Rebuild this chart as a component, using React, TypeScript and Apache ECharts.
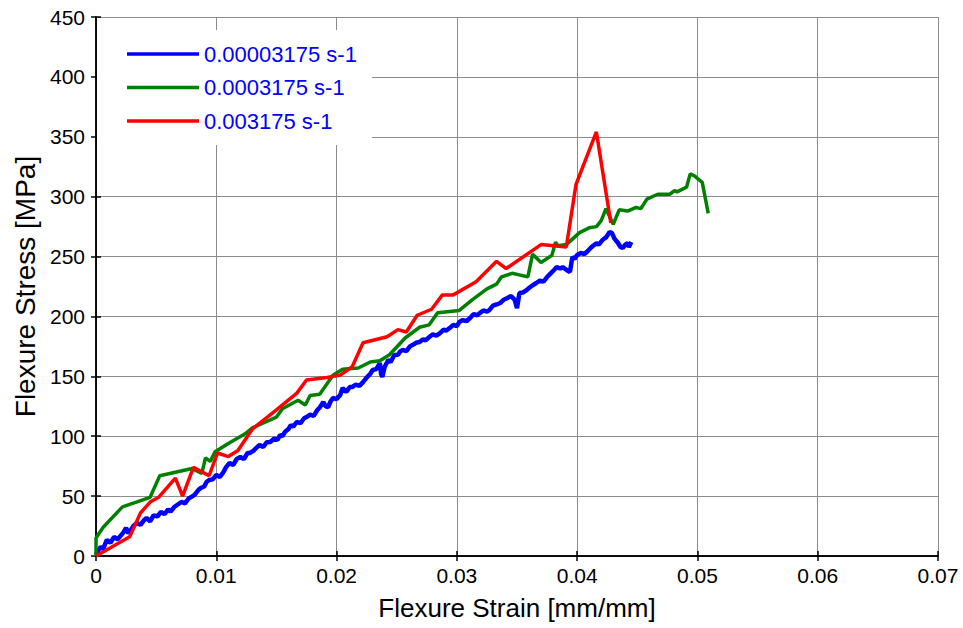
import React, { useEffect, useRef } from "react";
import * as echarts from "echarts";

const seriesNames = ["0.00003175 s-1", "0.0003175 s-1", "0.003175 s-1"];
const xTicks = [0, 0.01, 0.02, 0.03, 0.04, 0.05, 0.06, 0.07];

const blueData: [number, number][] = [
  [0, 0.8], [0.0002, 5], [0.0004, 7.5], [0.0006, 6], [0.0009, 13.4], [0.0012, 11], [0.0015, 15.9], [0.0018, 14],
  [0.0021, 17.5], [0.0023, 20], [0.0025, 23.4], [0.0027, 19], [0.0029, 21.7], [0.0031, 25], [0.0034, 27.5], [0.0037, 26],
  [0.004, 30], [0.0042, 31.7], [0.0045, 29], [0.0048, 34], [0.0051, 33], [0.0054, 36.7], [0.0057, 35], [0.006, 39],
  [0.0062, 37], [0.0065, 40.9], [0.0068, 43], [0.0071, 45.1], [0.0074, 44], [0.0077, 48], [0.0079, 49.2], [0.0082, 51],
  [0.0085, 55], [0.0087, 56.8], [0.009, 58], [0.0092, 62], [0.0094, 63.4], [0.0097, 64], [0.01, 67.6], [0.0103, 66],
  [0.0106, 70.1], [0.0108, 74], [0.0111, 77.6], [0.0114, 76], [0.0117, 81], [0.012, 82.6], [0.0123, 81], [0.0126, 86],
  [0.0128, 86], [0.0131, 88], [0.0134, 91], [0.0136, 92.7], [0.0139, 91], [0.0142, 95], [0.0145, 95.2], [0.0148, 98],
  [0.0151, 97], [0.0153, 101], [0.0155, 100], [0.0157, 103.5], [0.016, 106], [0.0162, 109.3], [0.0164, 108], [0.0167, 111.9],
  [0.017, 111], [0.0173, 115], [0.0175, 116], [0.0178, 118], [0.0181, 117], [0.0184, 121.9], [0.0186, 124], [0.0189, 128.5],
  [0.0191, 125], [0.0193, 124.4], [0.0195, 129], [0.0197, 131.9], [0.02, 131], [0.0203, 134.4], [0.0205, 140.2], [0.0208, 137],
  [0.0211, 141], [0.0213, 141.1], [0.0216, 143], [0.0219, 142], [0.0222, 145.2], [0.0225, 149], [0.0228, 152], [0.023, 155.3],
  [0.0233, 156], [0.0236, 161.1], [0.0237, 152], [0.0238, 149.4], [0.024, 158], [0.0243, 163.6], [0.0245, 162], [0.0248, 167.8],
  [0.0251, 168], [0.0253, 171], [0.0255, 172], [0.0258, 171], [0.0261, 175], [0.0263, 176.1], [0.0266, 178], [0.0269, 178.6],
  [0.0272, 181], [0.0274, 180], [0.0277, 182.8], [0.028, 185], [0.0283, 184], [0.0286, 186.1], [0.0289, 189], [0.0291, 188],
  [0.0294, 190.3], [0.0297, 193], [0.03, 192], [0.0302, 195.3], [0.0305, 197], [0.0308, 196], [0.0311, 198.7], [0.0314, 202],
  [0.0317, 201], [0.0319, 202.8], [0.0322, 205], [0.0325, 204], [0.0327, 205.3], [0.033, 209], [0.0333, 210], [0.0336, 211.2],
  [0.0339, 214], [0.0342, 215.4], [0.0345, 217], [0.0348, 214], [0.035, 207], [0.0351, 213], [0.0352, 219.5], [0.0355, 220],
  [0.0358, 222], [0.036, 223.7], [0.0363, 226], [0.0366, 227.9], [0.0369, 230], [0.0372, 229], [0.0375, 232.9], [0.0378, 236],
  [0.0381, 239], [0.0383, 241.2], [0.0386, 240], [0.0388, 241.2], [0.0391, 239], [0.0394, 237.1], [0.0396, 249.6], [0.0398, 248],
  [0.04, 251.3], [0.0403, 253], [0.0406, 252], [0.0408, 253.8], [0.0411, 257], [0.0413, 258.8], [0.0416, 261], [0.0418, 260],
  [0.0421, 263.8], [0.0424, 266], [0.0427, 270.5], [0.0429, 269.6], [0.0431, 265], [0.0434, 261.3], [0.0436, 258], [0.0438, 257.1],
  [0.044, 260], [0.0442, 261.3], [0.0443, 258], [0.0445, 262.1],
];

const greenData: [number, number][] = [
  [0, 0], [0, 15], [0.0006, 24], [0.0022, 41], [0.0045, 49], [0.0053, 67], [0.008, 73], [0.0088, 69], [0.0091, 82],
  [0.0095, 79], [0.0099, 87], [0.011, 94], [0.0124, 102], [0.013, 107], [0.015, 116], [0.0155, 123], [0.0168, 130],
  [0.0174, 126], [0.0178, 134], [0.0186, 135], [0.0197, 151], [0.0205, 156], [0.0218, 157], [0.0228, 162], [0.0236, 163],
  [0.0244, 168], [0.0257, 182], [0.0269, 191], [0.0277, 193], [0.0284, 203], [0.0302, 205], [0.0313, 214], [0.0325, 223],
  [0.0333, 227], [0.0337, 233], [0.0346, 236], [0.0359, 233], [0.0363, 252], [0.037, 245], [0.0379, 251], [0.0382, 262],
  [0.0384, 259], [0.0391, 260], [0.0402, 270], [0.041, 274], [0.0416, 275], [0.042, 280], [0.0424, 290], [0.043, 277],
  [0.0435, 289], [0.0442, 288], [0.0449, 291], [0.0453, 290], [0.0458, 298], [0.0467, 302], [0.0477, 302], [0.0481, 305],
  [0.0483, 304], [0.0491, 308], [0.0494, 319], [0.0498, 317], [0.0504, 312], [0.0509, 286],
];

const redData: [number, number][] = [
  [0, 0], [0.0028, 16], [0.0037, 36], [0.0045, 45], [0.0052, 49], [0.0066, 65], [0.0072, 50], [0.0081, 74], [0.0094, 67],
  [0.0101, 86], [0.011, 83], [0.0118, 88], [0.013, 106], [0.015, 122], [0.0167, 136], [0.0175, 147], [0.0192, 149],
  [0.0203, 151], [0.0213, 158], [0.0222, 178], [0.0242, 183], [0.0251, 189], [0.0258, 187], [0.0267, 201], [0.0279, 206],
  [0.0288, 218], [0.0297, 218], [0.0316, 229], [0.0333, 246], [0.0341, 240], [0.037, 260], [0.0391, 258], [0.0399, 310],
  [0.0416, 354], [0.0428, 278],
];

const FONT = "'Liberation Sans', Arial, sans-serif";

export default function App() {
  const ref = useRef<HTMLDivElement>(null);
  useEffect(() => {
    if (!ref.current) return;
    const chart = echarts.init(ref.current, null, { renderer: "svg" });
    const axisLine = { show: true, lineStyle: { color: "#000", width: 1.5 } };
    const tick = { show: true, inside: true, length: 5, lineStyle: { color: "#000", width: 1.5 } };
    chart.setOption({
      animation: false,
      backgroundColor: "#fff",
      grid: { left: 96, right: 25, top: 17, bottom: 72, containLabel: false },
      legend: {
        left: 97,
        top: 30,
        orient: "vertical",
        padding: [13, 15, 13, 30],
        icon: "rect",
        itemWidth: 72,
        itemHeight: 3.5,
        itemGap: 11.5,
        backgroundColor: "#fff",
        textStyle: { color: "#0000ff", fontSize: 22, lineHeight: 22, fontFamily: FONT },
        data: seriesNames,
      },
      xAxis: [
        {
          type: "value",
          min: 0,
          max: 0.07,
          interval: 0.01,
          name: "Flexure Strain [mm/mm]",
          nameLocation: "middle",
          nameGap: 39,
          nameTextStyle: { fontSize: 26, color: "#000", fontFamily: FONT },
          axisLine,
          axisTick: tick,
          axisLabel: {
            color: "#000",
            fontSize: 21,
            fontFamily: FONT,
            margin: 9,
            formatter: (v: number) => {
              const i = xTicks.findIndex((t) => Math.abs(t - v) < 1e-9);
              return i >= 0 ? String(xTicks[i]) : "";
            },
          },
          splitLine: { show: true, lineStyle: { color: "#8c8c8c", width: 1 } },
        },
        {
          type: "value",
          position: "top",
          min: 0,
          max: 0.07,
          interval: 0.01,
          axisLine,
          axisTick: tick,
          axisLabel: { show: false },
          splitLine: { show: false },
        },
      ],
      yAxis: [
        {
          type: "value",
          min: 0,
          max: 450,
          interval: 50,
          name: "Flexure Stress [MPa]",
          nameLocation: "middle",
          nameGap: 55,
          nameTextStyle: { fontSize: 28, color: "#000", fontFamily: FONT },
          axisLine,
          axisTick: tick,
          axisLabel: { color: "#000", fontSize: 21, fontFamily: FONT, margin: 11 },
          splitLine: { show: true, lineStyle: { color: "#8c8c8c", width: 1 } },
        },
        {
          type: "value",
          position: "right",
          min: 0,
          max: 450,
          interval: 50,
          axisLine,
          axisTick: tick,
          axisLabel: { show: false },
          splitLine: { show: false },
        },
      ],
      series: [
        {
          name: seriesNames[0],
          type: "line",
          data: blueData,
          symbol: "none",
          lineStyle: { color: "#0000ff", width: 4.5 },
          itemStyle: { color: "#0000ff" },
        },
        {
          name: seriesNames[1],
          type: "line",
          data: greenData,
          symbol: "none",
          lineStyle: { color: "#008000", width: 3.5 },
          itemStyle: { color: "#008000" },
        },
        {
          name: seriesNames[2],
          type: "line",
          data: redData,
          symbol: "none",
          lineStyle: { color: "#ff0000", width: 3.5 },
          itemStyle: { color: "#ff0000" },
        },
      ],
    });
    return () => chart.dispose();
  }, []);
  return (
    <div
      ref={ref}
      style={{ position: "fixed", left: 0, top: 0, width: 963, height: 628 }}
    />
  );
}
